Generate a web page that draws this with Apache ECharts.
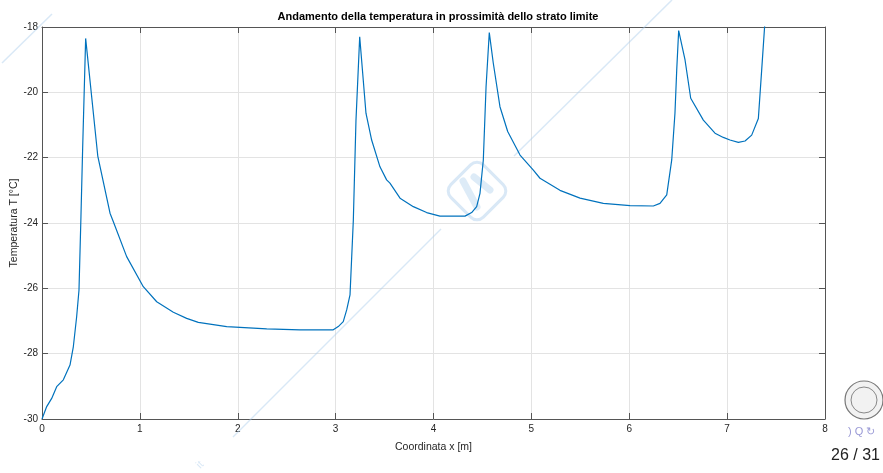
<!DOCTYPE html>
<html>
<head>
<meta charset="utf-8">
<script src="https://cdn.jsdelivr.net/npm/echarts@6/dist/echarts.min.js"></script>
<style>
  html, body { margin: 0; padding: 0; background: #fff; }
  #chart { width: 883px; height: 473px; }
</style>
</head>
<body>
<div id="chart"></div>
<script>
// Temperature profile along the boundary layer: position x [m] and temperature T [°C]
const xPos = [
  0, 0.048, 0.099, 0.15, 0.218, 0.286, 0.32, 0.354, 0.378, 0.398, 0.415, 0.446,
  0.57, 0.695, 0.729, 0.865, 1.035, 1.172, 1.342, 1.478, 1.597, 1.887, 2.296, 2.636,
  2.976, 3.027, 3.078, 3.113, 3.147, 3.181, 3.208, 3.246,
  3.31, 3.368, 3.453, 3.521, 3.555, 3.658, 3.794, 3.93, 4.066, 4.322,
  4.39, 4.441, 4.475, 4.509, 4.537, 4.57,
  4.611, 4.679, 4.758, 4.884, 5.02, 5.088, 5.292, 5.497, 5.735, 6.008, 6.246,
  6.314, 6.383, 6.434, 6.467, 6.485, 6.505,
  6.57, 6.628, 6.757, 6.876, 6.961, 7.029, 7.115, 7.183, 7.251, 7.319, 7.353, 7.385
];
const tempC = [
  -30, -29.62, -29.37, -29.01, -28.8, -28.35, -27.79, -26.87, -26.05, -23.8, -21.76, -18.35,
  -21.95, -23.7, -23.96, -25.03, -25.95, -26.41, -26.73, -26.92, -27.04, -27.17, -27.24, -27.27,
  -27.27, -27.17, -27.02, -26.66, -26.2, -23.91, -20.85, -18.3,
  -20.64, -21.46, -22.28, -22.68, -22.78, -23.24, -23.5, -23.68, -23.79, -23.79,
  -23.68, -23.5, -23.09, -22.07, -19.83, -18.17,
  -19.11, -20.44, -21.2, -21.92, -22.38, -22.63, -23.0, -23.24, -23.4, -23.47, -23.48,
  -23.4, -23.14, -22.07, -20.64, -19.32, -18.11,
  -19.01, -20.18, -20.85, -21.25, -21.38, -21.46, -21.53, -21.49, -21.31, -20.8, -19.32, -17.9
];

const xRange = [0, 8, 1];
const yRange = [-30, -18, 2];

const titleText = 'Andamento della temperatura in prossimità dello strato limite';
const xName = 'Coordinata x [m]';
const yName = 'Temperatura T [°C]';
const pageText = '26 / 31';

const axisInk = '#262626';
const gridInk = '#e3e3e3';
const lineInk = '#0072BD';
const markInk = 'rgba(170, 205, 235, 0.45)';
const font = '"Liberation Sans", Arial, Helvetica, sans-serif';

const chart = echarts.init(document.getElementById('chart'), null, { renderer: 'canvas' });

const baseX = {
  type: 'value', min: xRange[0], max: xRange[1], interval: xRange[2],
  axisLine: { show: true, onZero: false, lineStyle: { color: '#555', width: 1 } },
  axisTick: { show: true, inside: true, length: 6, lineStyle: { color: '#555', width: 1 } }
};
const baseY = {
  type: 'value', min: yRange[0], max: yRange[1], interval: yRange[2],
  axisLine: { show: true, onZero: false, lineStyle: { color: '#555', width: 1 } },
  axisTick: { show: true, inside: true, length: 6, lineStyle: { color: '#555', width: 1 } }
};

chart.setOption({
  animation: false,
  backgroundColor: '#ffffff',
  title: {
    text: titleText,
    left: 433, top: 6, textAlign: 'center',
    textStyle: { fontFamily: font, fontSize: 11, fontWeight: 'bold', color: '#000' }
  },
  grid: { left: 42, right: 58, top: 27, bottom: 54, containLabel: false, outerBoundsMode: 'none' },
  xAxis: [
    Object.assign({}, baseX, {
      position: 'bottom',
      name: xName, nameLocation: 'middle', nameGap: 23,
      nameTextStyle: { fontFamily: font, fontSize: 10.5, color: axisInk },
      axisLabel: { margin: 5, fontFamily: font, fontSize: 10, color: axisInk },
      splitLine: { show: true, lineStyle: { color: gridInk, width: 1 } }
    }),
    Object.assign({}, baseX, {
      position: 'top',
      axisLabel: { show: false },
      splitLine: { show: false }
    })
  ],
  yAxis: [
    Object.assign({}, baseY, {
      position: 'left',
      name: yName, nameLocation: 'middle', nameGap: 22, nameRotate: 90,
      nameMoveOverlap: false,
      nameTextStyle: { fontFamily: font, fontSize: 10.5, color: axisInk },
      axisLabel: { margin: 4, fontFamily: font, fontSize: 10, color: axisInk },
      splitLine: { show: true, lineStyle: { color: gridInk, width: 1 } }
    }),
    Object.assign({}, baseY, {
      position: 'right',
      axisLabel: { show: false },
      splitLine: { show: false }
    })
  ],
  series: [{
    type: 'line',
    data: xPos.map((x, i) => [x, tempC[i]]),
    showSymbol: false,
    clip: true,
    z: 5,
    lineStyle: { color: lineInk, width: 1.2 }
  }],
  graphic: [
    // faint diagonal page decoration
    { type: 'line', z: 1, silent: true, shape: { x1: 2, y1: 63, x2: 52, y2: 14 },
      style: { stroke: markInk, lineWidth: 1.5 } },
    { type: 'line', z: 1, silent: true, shape: { x1: 233, y1: 437, x2: 441, y2: 229 },
      style: { stroke: markInk, lineWidth: 1.5 } },
    { type: 'line', z: 1, silent: true, shape: { x1: 514, y1: 156, x2: 672, y2: 0 },
      style: { stroke: markInk, lineWidth: 1.5 } },
    { type: 'rect', z: 1, silent: true, x: 477, y: 191, rotation: Math.PI / 4,
      shape: { x: -23, y: -23, width: 46, height: 46, r: 9 },
      style: { fill: 'none', stroke: markInk, lineWidth: 3 } },
    { type: 'line', z: 1, silent: true, shape: { x1: 463, y1: 181, x2: 477, y2: 207 },
      style: { stroke: 'rgba(170, 205, 235, 0.4)', lineWidth: 7, lineCap: 'round' } },
    { type: 'line', z: 1, silent: true, shape: { x1: 474, y1: 177, x2: 490, y2: 190 },
      style: { stroke: 'rgba(170, 205, 235, 0.4)', lineWidth: 7, lineCap: 'round' } },
    { type: 'text', z: 1, silent: true, x: 200, y: 465, rotation: Math.PI / 4,
      style: { text: 'it', fill: markInk, font: '11px ' + font, align: 'center', verticalAlign: 'middle' } },
    // seal and navigation marks in the corner
    { type: 'circle', z: 1, silent: true, shape: { cx: 864, cy: 400, r: 19 },
      style: { fill: '#f2f2f2', stroke: '#777', lineWidth: 1.2 } },
    { type: 'circle', z: 1, silent: true, shape: { cx: 864, cy: 400, r: 13 },
      style: { fill: 'none', stroke: '#888', lineWidth: 1 } },
    { type: 'text', z: 1, silent: true, x: 848, y: 432,
      style: { text: ') Q ↻', fill: '#9a9ad6', font: '11px ' + font, verticalAlign: 'middle' } },
    { type: 'text', z: 1, silent: true, x: 880, y: 456,
      style: { text: pageText, fill: '#222', font: '16px ' + font, align: 'right', verticalAlign: 'middle' } }
  ]
});
</script>
</body>
</html>
